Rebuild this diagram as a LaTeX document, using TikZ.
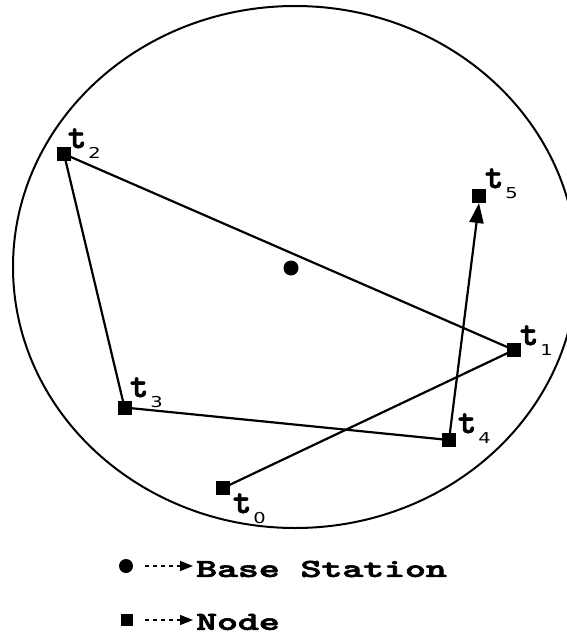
\documentclass[tikz,border=0pt]{standalone}
\usepackage{fontspec}
\usetikzlibrary{arrows.meta}
\newfontfamily\tfont{lmmonolt10-bold.otf}[FakeBold=2.2]
\newfontfamily\legfont{lmmonolt10-bold.otf}[FakeBold=2.2]
\newfontfamily\subfnt{DejaVu Sans}
\newcommand{\tlab}[1]{{\tfont\fontsize{35}{35}\selectfont t}\hspace{2pt}\raisebox{-10pt}{\scalebox{1.3}[1]{\subfnt\fontsize{15}{15}\selectfont #1}}}
\newcommand{\legtext}[1]{\scalebox{1.53}[1]{\legfont\fontsize{26}{26}\selectfont #1}}
\begin{document}
\begin{tikzpicture}[x=1pt,y=-1pt,
  sq/.style={fill=black,minimum size=14pt,inner sep=0pt,outer sep=0pt},
  bs/.style={circle,fill=black,minimum size=15pt,inner sep=0pt},
  lab/.style={anchor=base west,inner sep=0pt,outer sep=0pt},
  edge/.style={line width=2.2pt},
  legarrow/.style={line width=1.3pt,dash pattern=on 4pt off 4pt,-{Triangle[length=13pt,width=10pt]}}]
\useasboundingbox (0,0) rectangle (567,635);
\clip (0,0) rectangle (567,635);
\draw[line width=2pt] (295,267) ellipse [x radius=282, y radius=261];
\node[sq] (t0) at (223,488) {};
\node[sq] (t1) at (514,350) {};
\node[sq] (t2) at (64,154) {};
\node[sq] (t3) at (124.5,407.5) {};
\node[sq] (t4) at (449,440) {};
\node[sq] (t5) at (479,196) {};
\node[bs] (bs) at (291,268) {};
\draw[edge] (t0.center) -- (t1.center);
\draw[edge] (t1.center) -- (t2.center);
\draw[edge] (t2.center) -- (t3.center);
\draw[edge] (t3.center) -- (t4.center);
\draw[edge,-{Triangle[length=20pt,width=14pt]}] (t4.center) -- (t5.south);
\node[lab] (l2) at (68,148) {\tlab{2}};
\node[lab] (l5) at (485,188) {\tlab{5}};
\node[lab] (l1) at (520,345) {\tlab{1}};
\node[lab] (l3) at (130,397) {\tlab{3}};
\node[lab] (l4) at (458,433) {\tlab{4}};
\node[lab] (l0) at (233,513) {\tlab{0}};
% legend
\node[bs,minimum size=14pt] (lbs) at (126,566) {};
\node[anchor=west,inner sep=0pt] (lbst) at (196,569) {\legtext{Base Station}};
\coordinate (la1) at (145,566);
\coordinate (la2) at (193,566);
\draw[legarrow] (la1) -- (la2);
\node[sq,minimum size=12pt] (lnd) at (127,620) {};
\node[anchor=west,inner sep=0pt] (lndt) at (196,622) {\legtext{Node}};
\coordinate (lb1) at (145,620);
\coordinate (lb2) at (193,620);
\draw[legarrow] (lb1) -- (lb2);
\end{tikzpicture}
\end{document}
